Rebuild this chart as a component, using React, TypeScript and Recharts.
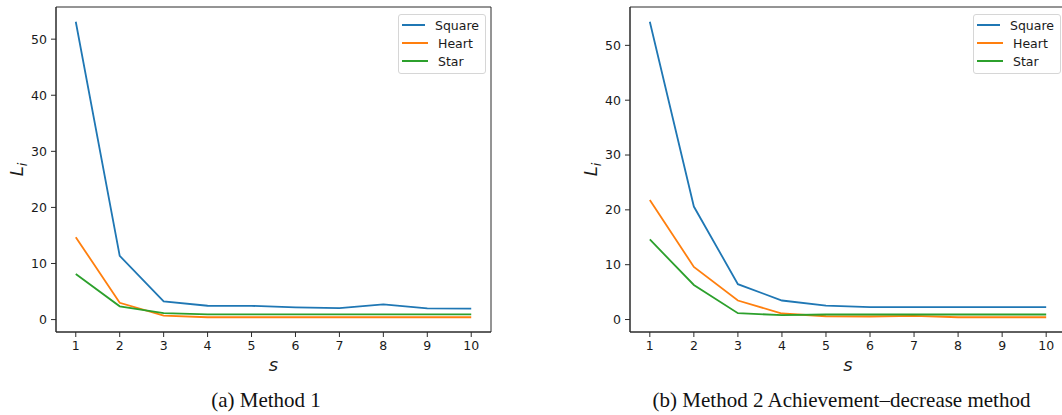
import React from "react";
import { LineChart, Line, XAxis, YAxis, Legend, ReferenceArea } from "recharts";

// iteration index s
const steps = [1, 2, 3, 4, 5, 6, 7, 8, 9, 10];

// (a) Method 1
const m1Square = [53.1, 11.35, 3.25, 2.47, 2.45, 2.18, 2.05, 2.7, 2.0, 1.95];
const m1Heart = [14.7, 3.0, 0.7, 0.42, 0.42, 0.42, 0.42, 0.42, 0.42, 0.42];
const m1Star = [8.13, 2.36, 1.16, 0.93, 0.93, 0.93, 0.93, 0.93, 0.93, 0.93];

// (b) Method 2, achievement-decrease
const m2Square = [54.3, 20.6, 6.45, 3.47, 2.55, 2.27, 2.27, 2.27, 2.27, 2.25];
const m2Heart = [21.8, 9.6, 3.47, 1.1, 0.6, 0.55, 0.65, 0.42, 0.42, 0.42];
const m2Star = [14.6, 6.3, 1.15, 0.8, 0.92, 0.92, 0.92, 0.92, 0.92, 0.92];

const seriesNames = ["Square", "Heart", "Star"];
const yTicks = [0, 10, 20, 30, 40, 50];
const captions = ["(a) Method 1", "(b) Method 2 Achievement\u2013decrease method"];

const COLORS: Record<string, string> = { Square: "#1f77b4", Heart: "#ff7f0e", Star: "#2ca02c" };
const INK = "#1a1a1a";
const SPINE = "#2b2b2b";
const SANS = "DejaVu Sans";

const toRows = (sq: number[], he: number[], st: number[]) =>
  steps.map((s, i) => ({ s, Square: sq[i], Heart: he[i], Star: st[i] }));

// matplotlib-style 5% padding around the data
const padDomain = (vals: number[]): [number, number] => {
  const lo = Math.min(...vals);
  const hi = Math.max(...vals);
  const pad = (hi - lo) * 0.05;
  return [lo - pad, hi + pad];
};

const xDomain: [number, number] = [0.55, 10.45];

function LegendBox(props: any) {
  const items = [...(props.payload || [])].sort(
    (a: any, b: any) => seriesNames.indexOf(a.value) - seriesNames.indexOf(b.value)
  );
  return (
    <div
      style={{
        border: "1px solid #d6d6d6",
        borderRadius: 3,
        background: "rgba(255,255,255,0.8)",
        padding: "1px 6px 3px 3px",
        fontFamily: SANS,
        fontSize: 12.5,
        color: INK,
        width: 77,
        boxSizing: "content-box",
        whiteSpace: "nowrap",
      }}
    >
      {items.map((p: any) => (
        <div key={p.value} style={{ display: "flex", alignItems: "center", height: 18 }}>
          <span style={{ width: 26, height: 0, borderTop: `2px solid ${p.color}`, marginRight: 10 }} />
          <span>{p.value}</span>
        </div>
      ))}
    </div>
  );
}

function YTitle(props: any) {
  const { x, y, height } = props.viewBox;
  const cx = x + 7;
  const cy = y + height / 2;
  return (
    <text
      x={cx}
      y={cy}
      transform={`rotate(-90, ${cx}, ${cy})`}
      textAnchor="middle"
      fontFamily={SANS}
      fontStyle="italic"
      fontSize={18}
      fill={INK}
    >
      L<tspan dy={4} fontSize={13}>i</tspan>
    </text>
  );
}

function XTitle(props: any) {
  const { x, y, width } = props.viewBox;
  return (
    <text x={x + width / 2} y={y + 39} textAnchor="middle" fontFamily={SANS} fontStyle="italic" fontSize={18} fill={INK}>
      s
    </text>
  );
}

type PanelProps = {
  rows: { s: number; Square: number; Heart: number; Star: number }[];
  left: number;
  width: number;
  margin: { top: number; right: number; bottom: number; left: number };
  legendLeft: number;
};

function Panel({ rows, left, width, margin, legendLeft }: PanelProps) {
  const yDomain = padDomain(rows.flatMap((r) => [r.Square, r.Heart, r.Star]));
  const tick = { fill: INK, fontSize: 12.5, fontFamily: SANS };
  return (
    <div style={{ position: "absolute", left, top: 0 }}>
      <LineChart width={width} height={400} data={rows} margin={margin}>
        <ReferenceArea
          x1={xDomain[0]}
          x2={xDomain[1]}
          y1={yDomain[0]}
          y2={yDomain[1]}
          fill="none"
          fillOpacity={0}
          stroke={SPINE}
          strokeWidth={1}
          ifOverflow="visible"
        />
        <XAxis
          dataKey="s"
          type="number"
          domain={xDomain}
          ticks={steps}
          allowDataOverflow
          height={40}
          tick={tick}
          tickSize={5}
          tickMargin={4}
          tickLine={{ stroke: SPINE }}
          axisLine={{ stroke: SPINE }}
          label={<XTitle />}
        />
        <YAxis
          type="number"
          domain={yDomain}
          ticks={yTicks}
          allowDataOverflow
          width={40}
          tick={tick}
          tickSize={5}
          tickMargin={4}
          tickLine={{ stroke: SPINE }}
          axisLine={{ stroke: SPINE }}
          label={<YTitle />}
        />
        <Legend
          layout="horizontal"
          verticalAlign="middle"
          content={<LegendBox />}
          wrapperStyle={{ top: 14, left: legendLeft, width: "auto", height: "auto" }}
        />
        {seriesNames.map((name) => (
          <Line
            key={name}
            type="linear"
            dataKey={name}
            name={name}
            stroke={COLORS[name]}
            strokeWidth={1.8}
            dot={false}
            isAnimationActive={false}
          />
        ))}
      </LineChart>
    </div>
  );
}

export default function App() {
  return (
    <div style={{ position: "absolute", left: 0, top: 0, width: 1062, height: 415, overflow: "hidden", background: "#fff" }}>
      <Panel
        rows={toRows(m1Square, m1Heart, m1Star)}
        left={0}
        width={520}
        margin={{ top: 7, right: 29, bottom: 28, left: 16 }}
        legendLeft={398}
      />
      <Panel
        rows={toRows(m2Square, m2Heart, m2Star)}
        left={540}
        width={540}
        margin={{ top: 7, right: 14, bottom: 28, left: 50 }}
        legendLeft={433}
      />
      <svg width={1062} height={415} style={{ position: "absolute", left: 0, top: 0, pointerEvents: "none" }}>
        <text x={266} y={407} textAnchor="middle" fontFamily="Liberation Serif" fontSize={21} fill="#111">
          {captions[0]}
        </text>
        <text x={841.5} y={407} textAnchor="middle" fontFamily="Liberation Serif" fontSize={21} fill="#111">
          {captions[1]}
        </text>
      </svg>
    </div>
  );
}
